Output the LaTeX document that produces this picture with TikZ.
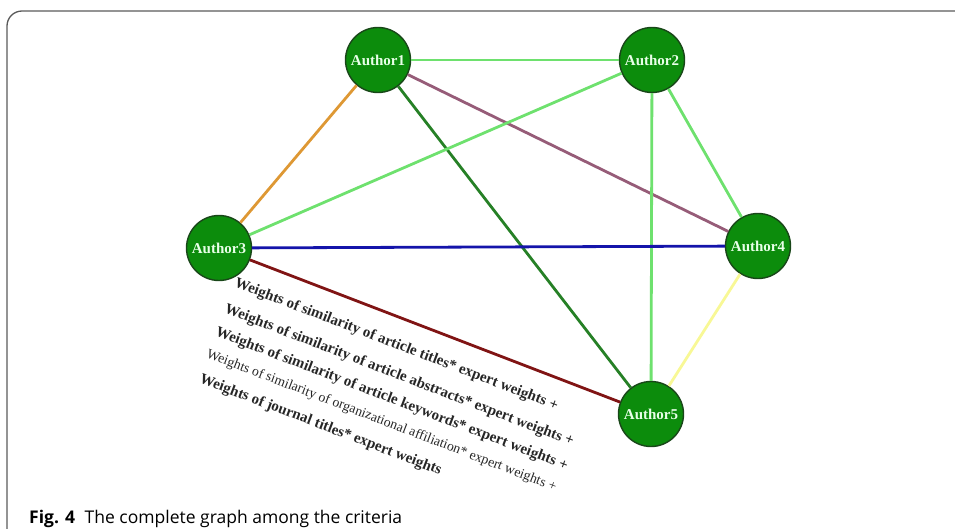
\documentclass[tikz,border=0pt]{standalone}
\usepackage{fontspec}
\setmainfont{Liberation Serif}
\newfontfamily\capfont{Open Sans}
\definecolor{nodegreen}{RGB}{12,140,12}
\definecolor{nodeedge}{RGB}{25,70,25}
\definecolor{labelwhite}{RGB}{232,255,232}
\definecolor{lightlink}{RGB}{110,225,110}
\definecolor{orangelink}{RGB}{222,152,52}
\definecolor{mauvelink}{RGB}{150,92,120}
\definecolor{darklink}{RGB}{38,128,38}
\definecolor{bluelink}{RGB}{20,20,170}
\definecolor{redlink}{RGB}{128,20,20}
\definecolor{yellowlink}{RGB}{248,248,150}
\definecolor{framegray}{RGB}{90,90,90}
\begin{document}
\begin{tikzpicture}[x=1pt,y=-1pt,
	author/.style={circle,draw=nodeedge,fill=nodegreen,line width=1.4pt,minimum size=65pt,inner sep=0pt,text=labelwhite,font=\fontsize{15}{15}\selectfont\bfseries},
	link/.style={line width=2.8pt},
	weight/.style={anchor=west,rotate=-21,inner sep=0pt,text=black!85,font=\fontsize{15}{15}\selectfont\bfseries}]
	\useasboundingbox (0,0) rectangle (955,529);
	% frame of the figure
	\draw[framegray,line width=1.3pt,rounded corners=15pt] (955,11) -- (7,11) -- (7,529);
	% authors
	\node[author] (a1) at (378,60) {Author1};
	\node[author] (a2) at (652,60) {Author2};
	\node[author] (a3) at (219,248) {Author3};
	\node[author] (a4) at (758,246) {Author4};
	\node[author] (a5) at (651,414) {Author5};
	% complete graph
	\draw[link,lightlink] (a1) -- (a2);
	\draw[link,orangelink] (a1) -- (a3);
	\draw[link,mauvelink] (a1) -- (a4);
	\draw[link,darklink] (a1) -- (a5);
	\draw[link,lightlink] (a2) -- (a3);
	\draw[link,lightlink] (a2) -- (a4);
	\draw[link,lightlink] (a2) -- (a5);
	\draw[link,bluelink] (a3) -- (a4);
	\draw[link,redlink] (a3) -- (a5);
	\draw[link,yellowlink] (a4) -- (a5);
	% weighted sum along the edge
	\node[weight] (w1) at (235,283) {Weights of similarity of article titles* expert weights +};
	\node[weight] (w2) at (225,309) {Weights of similarity of article abstracts* expert weights +};
	\node[weight] (w3) at (216,332) {Weights of similarity of article keywords* expert weights +};
	\node[weight,font=\fontsize{13.8}{13.8}\selectfont] (w4) at (207,354) {Weights of similarity of organizational affiliation* expert weights +};
	\node[weight] (w5) at (200,379) {Weights of journal titles* expert weights};
	% caption
	\node[anchor=base west,inner sep=0pt,font=\capfont\fontsize{17.5}{17.5}\selectfont] (cap) at (29,523) {\textbf{Fig. 4}\hspace{0.55em}The complete graph among the criteria};
\end{tikzpicture}
\end{document}
